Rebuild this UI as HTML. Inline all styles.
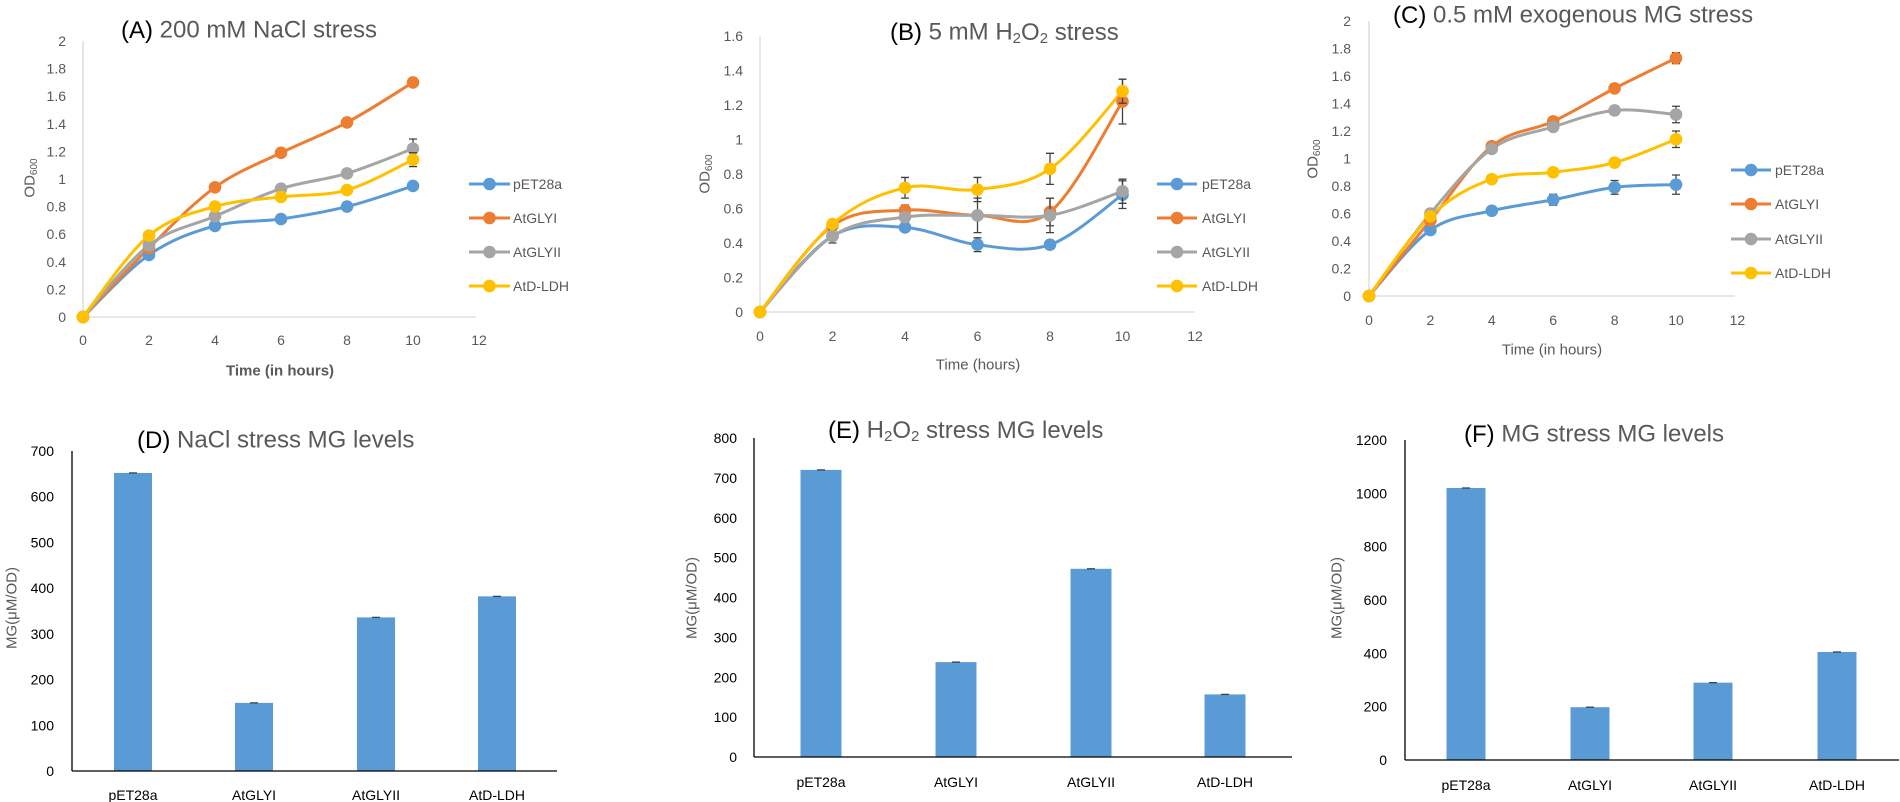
<!DOCTYPE html>
<html><head><meta charset="utf-8"><style>
html,body{margin:0;padding:0;background:#fff;}
svg{display:block;font-family:"Liberation Sans",sans-serif;}
.t{fill:#595959;font-size:14px;}
.ti{fill:#595959;font-size:24px;}
.bk{fill:#000;}
.bt{fill:#000;font-size:14px;}
</style></head><body>
<svg id="s" width="1900" height="802" viewBox="0 0 1900 802" xmlns="http://www.w3.org/2000/svg">
<rect width="1900" height="802" fill="#fff"/>
<g id="g"></g>
<!-- Panel A text -->
<text x="121" y="30" class="ti" dominant-baseline="central"><tspan class="bk">(A)</tspan>  200 mM NaCl stress</text>
<g class="t" text-anchor="end" dominant-baseline="central">
<text x="66" y="317">0</text><text x="66" y="289.4">0.2</text><text x="66" y="261.8">0.4</text><text x="66" y="234.2">0.6</text><text x="66" y="206.6">0.8</text><text x="66" y="179">1</text><text x="66" y="151.4">1.2</text><text x="66" y="123.8">1.4</text><text x="66" y="96.2">1.6</text><text x="66" y="68.6">1.8</text><text x="66" y="41">2</text>
</g>
<g class="t" text-anchor="middle" dominant-baseline="central">
<text x="83" y="340">0</text><text x="149" y="340">2</text><text x="215" y="340">4</text><text x="281" y="340">6</text><text x="347" y="340">8</text><text x="413" y="340">10</text><text x="479" y="340">12</text>
</g>
<text x="280" y="371" class="t" font-size="15" font-weight="bold" text-anchor="middle" dominant-baseline="central" style="font-size:15px">Time (in hours)</text>
<text transform="translate(30,178) rotate(-90)" class="t" text-anchor="middle" dominant-baseline="central" style="font-size:15px">OD<tspan font-size="10" dy="4">600</tspan></text>
<g class="t" dominant-baseline="central"><text x="513" y="184">pET28a</text><text x="513" y="218">AtGLYI</text><text x="513" y="252">AtGLYII</text><text x="513" y="286">AtD-LDH</text></g>

<!-- Panel B text -->
<text x="890" y="32" class="ti" dominant-baseline="central"><tspan class="bk">(B)</tspan>   5 mM H<tspan font-size="15" dy="6">2</tspan><tspan dy="-6">O</tspan><tspan font-size="15" dy="6">2</tspan><tspan dy="-6"> stress</tspan></text>
<g class="t" text-anchor="end" dominant-baseline="central">
<text x="743" y="312">0</text><text x="743" y="277.5">0.2</text><text x="743" y="243">0.4</text><text x="743" y="208.5">0.6</text><text x="743" y="174">0.8</text><text x="743" y="139.5">1</text><text x="743" y="105">1.2</text><text x="743" y="70.5">1.4</text><text x="743" y="36">1.6</text>
</g>
<g class="t" text-anchor="middle" dominant-baseline="central">
<text x="760" y="336">0</text><text x="832.5" y="336">2</text><text x="905" y="336">4</text><text x="977.5" y="336">6</text><text x="1050" y="336">8</text><text x="1122.5" y="336">10</text><text x="1195" y="336">12</text>
</g>
<text x="978" y="365" class="t" text-anchor="middle" dominant-baseline="central" style="font-size:15px">Time (hours)</text>
<text transform="translate(705,174) rotate(-90)" class="t" text-anchor="middle" dominant-baseline="central" style="font-size:15px">OD<tspan font-size="10" dy="4">600</tspan></text>
<g class="t" dominant-baseline="central"><text x="1202" y="184">pET28a</text><text x="1202" y="218">AtGLYI</text><text x="1202" y="252">AtGLYII</text><text x="1202" y="286">AtD-LDH</text></g>

<!-- Panel C text -->
<text x="1393" y="15" class="ti" dominant-baseline="central"><tspan class="bk">(C)</tspan> 0.5 mM exogenous MG stress</text>
<g class="t" text-anchor="end" dominant-baseline="central">
<text x="1351" y="296">0</text><text x="1351" y="268.5">0.2</text><text x="1351" y="241">0.4</text><text x="1351" y="213.5">0.6</text><text x="1351" y="186">0.8</text><text x="1351" y="158.5">1</text><text x="1351" y="131">1.2</text><text x="1351" y="103.5">1.4</text><text x="1351" y="76">1.6</text><text x="1351" y="48.5">1.8</text><text x="1351" y="21">2</text>
</g>
<g class="t" text-anchor="middle" dominant-baseline="central">
<text x="1369" y="320">0</text><text x="1430.4" y="320">2</text><text x="1491.8" y="320">4</text><text x="1553.2" y="320">6</text><text x="1614.6" y="320">8</text><text x="1676" y="320">10</text><text x="1737.4" y="320">12</text>
</g>
<text x="1552" y="350" class="t" text-anchor="middle" dominant-baseline="central" style="font-size:15px">Time (in hours)</text>
<text transform="translate(1313,159) rotate(-90)" class="t" text-anchor="middle" dominant-baseline="central" style="font-size:15px">OD<tspan font-size="10" dy="4">600</tspan></text>
<g class="t" dominant-baseline="central"><text x="1775" y="170">pET28a</text><text x="1775" y="204">AtGLYI</text><text x="1775" y="239">AtGLYII</text><text x="1775" y="273">AtD-LDH</text></g>

<!-- Panel D -->
<text x="137" y="440" class="ti" dominant-baseline="central"><tspan class="bk">(D)</tspan> NaCl stress MG levels</text>
<g class="bt" text-anchor="end" dominant-baseline="central">
<text x="54" y="771">0</text><text x="54" y="725.3">100</text><text x="54" y="679.6">200</text><text x="54" y="633.9">300</text><text x="54" y="588.1">400</text><text x="54" y="542.4">500</text><text x="54" y="496.7">600</text><text x="54" y="451">700</text>
</g>
<g class="bt" text-anchor="middle" dominant-baseline="central"><text x="133" y="795">pET28a</text><text x="254" y="795">AtGLYI</text><text x="376" y="795">AtGLYII</text><text x="497" y="795">AtD-LDH</text></g>
<text transform="translate(12,608) rotate(-90)" class="t" text-anchor="middle" dominant-baseline="central" style="font-size:15px">MG(μM/OD)</text>

<!-- Panel E -->
<text x="828" y="430" class="ti" dominant-baseline="central"><tspan class="bk">(E)</tspan> H<tspan font-size="15" dy="6">2</tspan><tspan dy="-6">O</tspan><tspan font-size="15" dy="6">2</tspan><tspan dy="-6">  stress MG levels</tspan></text>
<g class="bt" text-anchor="end" dominant-baseline="central">
<text x="737" y="757">0</text><text x="737" y="717.1">100</text><text x="737" y="677.3">200</text><text x="737" y="637.4">300</text><text x="737" y="597.5">400</text><text x="737" y="557.6">500</text><text x="737" y="517.8">600</text><text x="737" y="477.9">700</text><text x="737" y="438">800</text>
</g>
<g class="bt" text-anchor="middle" dominant-baseline="central"><text x="821" y="782">pET28a</text><text x="956" y="782">AtGLYI</text><text x="1091" y="782">AtGLYII</text><text x="1225" y="782">AtD-LDH</text></g>
<text transform="translate(692,598) rotate(-90)" class="t" text-anchor="middle" dominant-baseline="central" style="font-size:15px">MG(μM/OD)</text>

<!-- Panel F -->
<text x="1464" y="434" class="ti" dominant-baseline="central"><tspan class="bk">(F)</tspan> MG  stress MG levels</text>
<g class="bt" text-anchor="end" dominant-baseline="central">
<text x="1387" y="760">0</text><text x="1387" y="706.7">200</text><text x="1387" y="653.3">400</text><text x="1387" y="600">600</text><text x="1387" y="546.7">800</text><text x="1387" y="493.3">1000</text><text x="1387" y="440">1200</text>
</g>
<g class="bt" text-anchor="middle" dominant-baseline="central"><text x="1466" y="785">pET28a</text><text x="1590" y="785">AtGLYI</text><text x="1713" y="785">AtGLYII</text><text x="1837" y="785">AtD-LDH</text></g>
<text transform="translate(1337,598) rotate(-90)" class="t" text-anchor="middle" dominant-baseline="central" style="font-size:15px">MG(μM/OD)</text>
</svg>
<script>
var NS="http://www.w3.org/2000/svg",G=document.getElementById("g");
function el(n,a){var e=document.createElementNS(NS,n);for(var k in a)e.setAttribute(k,a[k]);G.appendChild(e);return e;}
var C=["#5B9BD5","#ED7D31","#A5A5A5","#FFC000"];
function smooth(p){var d="M"+p[0][0]+","+p[0][1];for(var i=0;i<p.length-1;i++){var p0=p[i-1]||p[i],p1=p[i],p2=p[i+1],p3=p[i+2]||p2;var t=0.17;
d+=" C"+(p1[0]+(p2[0]-p0[0])*t)+","+(p1[1]+(p2[1]-p0[1])*t)+" "+(p2[0]-(p3[0]-p1[0])*t)+","+(p2[1]-(p3[1]-p1[1])*t)+" "+p2[0]+","+p2[1];}return d;}
function line(o){
 el("line",{x1:o.x0,y1:o.yTop,x2:o.x0,y2:o.y0,stroke:"#d9d9d9","stroke-width":1.3});
 el("line",{x1:o.x0,y1:o.y0,x2:o.xEnd,y2:o.y0,stroke:"#d9d9d9","stroke-width":1.3});
 o.data.forEach(function(s,si){
  var pts=s.map(function(v,i){return [o.x0+i*o.step,o.y0-v*o.k];});
  el("path",{d:smooth(pts),fill:"none",stroke:C[si],"stroke-width":3});
 });
 o.data.forEach(function(s,si){
  s.forEach(function(v,i){var x=o.x0+i*o.step,y=o.y0-v*o.k;
   var e=(o.err[si]||[])[i]||0;
   if(e){var h=e*o.k;el("path",{d:"M"+x+","+(y-h)+"V"+(y+h)+"M"+(x-4)+","+(y-h)+"h8M"+(x-4)+","+(y+h)+"h8",stroke:"#404040","stroke-width":1.3,fill:"none"});}
   el("circle",{cx:x,cy:y,r:6.3,fill:C[si]});
  });
 });
 o.leg.y.forEach(function(y,i){el("line",{x1:o.leg.x1,y1:y,x2:o.leg.x2,y2:y,stroke:C[i],"stroke-width":3});el("circle",{cx:(o.leg.x1+o.leg.x2)/2,cy:y,r:6.3,fill:C[i]});});
}
line({x0:83,y0:317,yTop:41,xEnd:476,step:66,k:138,
 data:[[0,.45,.66,.71,.8,.95],[0,.5,.94,1.19,1.41,1.7],[0,.52,.73,.93,1.04,1.22],[0,.59,.8,.87,.92,1.14]],
 err:[[0,0,0,0,0,.01],[0,0,0,0,0,.02],[0,0,0,0,0,.07],[0,0,0,0,0,.05]],
 leg:{x1:469,x2:510,y:[184,218,252,286]}});
line({x0:760,y0:312,yTop:36,xEnd:1195,step:72.5,k:172.5,
 data:[[0,.44,.49,.39,.39,.68],[0,.5,.59,.56,.58,1.22],[0,.44,.55,.56,.56,.7],[0,.51,.72,.71,.83,1.28]],
 err:[[0,0,0,.04,0,.08],[0,0,.03,0,.08,.13],[0,.04,0,.1,.1,.07],[0,0,.06,.07,.09,.07]],
 leg:{x1:1157,x2:1197,y:[184,218,252,286]}});
line({x0:1369,y0:296,yTop:21,xEnd:1735,step:61.4,k:137.5,
 data:[[0,.48,.62,.7,.79,.81],[0,.55,1.09,1.27,1.51,1.73],[0,.6,1.07,1.23,1.35,1.32],[0,.58,.85,.9,.97,1.14]],
 err:[[0,0,0,.04,.05,.07],[0,0,0,0,0,.04],[0,0,0,0,.03,.06],[0,0,0,0,0,.06]],
 leg:{x1:1731,x2:1771,y:[170,204,239,273]}});
function bar(o){
 o.c.forEach(function(cx,i){var h=o.v[i]*o.k;el("rect",{x:cx-o.w/2,y:o.y0-h,width:o.w,height:h,fill:"#5B9BD5"});
  el("line",{x1:cx-4,y1:o.y0-h,x2:cx+4,y2:o.y0-h,stroke:"#404040","stroke-width":1.3});});
 el("line",{x1:o.x0,y1:o.yTop,x2:o.x0,y2:o.y0,stroke:"#000","stroke-width":1.3});
 el("line",{x1:o.x0,y1:o.y0,x2:o.xEnd,y2:o.y0,stroke:"#000","stroke-width":1.3});
}
bar({x0:72,y0:771,yTop:451,xEnd:557,k:320/700,w:38,c:[133,254,376,497],v:[652,149,336,382]});
bar({x0:754,y0:757,yTop:438,xEnd:1292,k:319/800,w:41,c:[821,956,1091,1225],v:[720,238,472,157]});
bar({x0:1405,y0:760,yTop:440,xEnd:1899,k:320/1200,w:39,c:[1466,1590,1713,1837],v:[1020,198,290,405]});
</script>
</body></html>
